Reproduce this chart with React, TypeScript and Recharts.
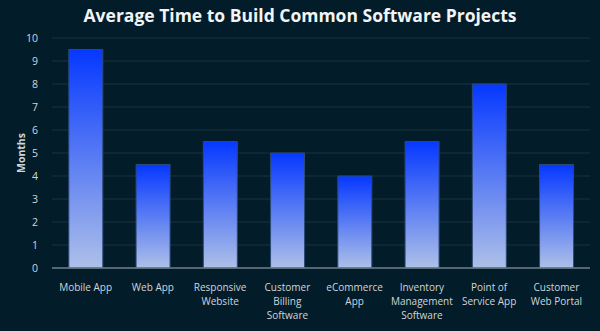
import React from "react";
import { BarChart, Bar, XAxis, YAxis, CartesianGrid } from "recharts";

const categories = [
  "Mobile App",
  "Web App",
  "Responsive\nWebsite",
  "Customer\nBilling\nSoftware",
  "eCommerce\nApp",
  "Inventory\nManagement\nSoftware",
  "Point of\nService App",
  "Customer\nWeb Portal",
];
const months = [9.5, 4.5, 5.5, 5, 4, 5.5, 8, 4.5];
const yTicks = [0, 1, 2, 3, 4, 5, 6, 7, 8, 9, 10];

const data = categories.map((c, i) => ({ name: c, months: months[i] }));

const FONT = "'Open Sans', 'Noto Sans', sans-serif";

const XTick = (props: any) => {
  const { x, y, payload } = props;
  const lines = String(payload.value).split("\n");
  return (
    <text x={x} y={y} textAnchor="middle" fill="#d0d6da" fontSize={10} fontFamily={FONT}>
      {lines.map((l: string, i: number) => (
        <tspan key={i} x={x} dy={i === 0 ? 15 : 14}>
          {l}
        </tspan>
      ))}
    </text>
  );
};

export default function App() {
  return (
    <div
      style={{
        position: "absolute",
        left: 0,
        top: 0,
        width: 600,
        height: 331,
        background: "#031c29",
      }}
    >
      <div
        style={{
          position: "absolute",
          left: 0,
          top: 2,
          width: 600,
          textAlign: "center",
          color: "#f2f4f5",
          fontFamily: FONT,
          fontWeight: 700,
          fontSize: 17.5,
          lineHeight: "26px",
        }}
      >
        Average Time to Build Common Software Projects
      </div>
      <BarChart
        width={600}
        height={331}
        data={data}
        margin={{ top: 38, right: 10, bottom: 0, left: 0 }}
        barCategoryGap="25%"
      >
        <defs>
          <linearGradient id="barGrad" x1="0" y1="0" x2="0" y2="1">
            <stop offset="0%" stopColor="#0538ff" />
            <stop offset="100%" stopColor="#aec0e8" />
          </linearGradient>
        </defs>
        <CartesianGrid vertical={false} stroke="#1b3241" strokeWidth={1} />
        <XAxis
          dataKey="name"
          interval={0}
          tickLine={false}
          axisLine={{ stroke: "#6d7c86", strokeWidth: 1.5 }}
          tick={<XTick />}
          height={63}
        />
        <YAxis
          domain={[0, 10]}
          ticks={yTicks}
          interval={0}
          width={52}
          tickLine={false}
          axisLine={false}
          tickMargin={8}
          tick={{ fill: "#d0d6da", fontSize: 10.5, fontFamily: FONT }}
          label={{
            value: "Months",
            angle: -90,
            position: "insideLeft",
            dx: 16,
            fill: "#d0d6da",
            fontSize: 10.5,
            fontWeight: 700,
            fontFamily: FONT,
            style: { textAnchor: "middle" },
          }}
        />
        <Bar
          dataKey="months"
          fill="url(#barGrad)"
          stroke="#2c4a78"
          strokeWidth={1}
          isAnimationActive={false}
        />
      </BarChart>
    </div>
  );
}
